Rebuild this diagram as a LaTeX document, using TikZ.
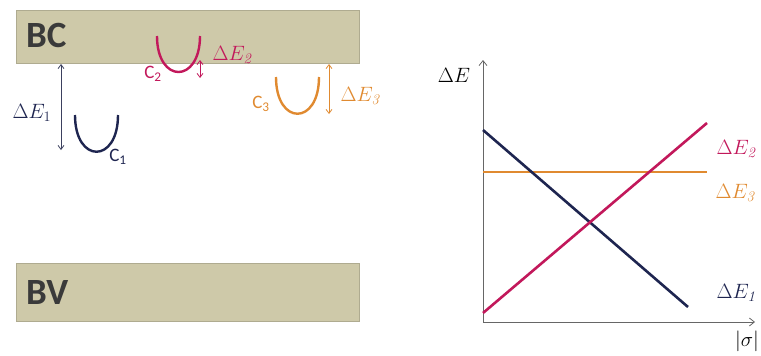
\documentclass[tikz,border=0pt]{standalone}
\usepackage{fontspec}
\newfontfamily\calib{Carlito}
\usetikzlibrary{arrows.meta}
\definecolor{navy}{HTML}{1E2550}
\definecolor{crim}{HTML}{C2185B}
\definecolor{orng}{HTML}{E08A30}
\definecolor{band}{HTML}{CEC9A9}
\definecolor{bandtxt}{HTML}{3A3A3A}
\tikzset{
  bandbox/.style={fill=band, draw=band!85!black, line width=0.6pt},
  bandlbl/.style={anchor=west, inner sep=0pt, text=bandtxt, font=\calib\bfseries\fontsize{37}{40}\selectfont},
  gap/.style={line width=0.8pt, {Straight Barb[length=4pt,width=6pt]}-{Straight Barb[length=4pt,width=6pt]}},
  well/.style={line width=2.4pt},
  elbl/.style={inner sep=0pt, font=\fontsize{21}{24}\selectfont},
  clbl/.style={inner sep=0pt, font=\calib\fontsize{19}{21}\selectfont},
  axis/.style={line width=0.8pt, draw=gray!80!black, -{Straight Barb[length=5pt,width=8pt]}},
  curve/.style={line width=2.6pt}
}
\begin{document}
\begin{tikzpicture}[x=1pt,y=-1pt]
\useasboundingbox (0,0) rectangle (761,356);
% bands
\node[bandbox, minimum width=343pt, minimum height=53pt, anchor=north west, inner sep=0pt] (bc) at (16,10) {};
\node[bandbox, minimum width=343pt, minimum height=58pt, anchor=north west, inner sep=0pt] (bv) at (16,263) {};
\node[bandlbl] (bct) at (26,35) {BC};
\node[bandlbl] (bvt) at (26,293) {BV};
% wells
\draw[well, navy] (75,115) .. controls (75,164) and (118,164) .. (118,115);
\draw[well, crim] (157,36) .. controls (157,84) and (200,84) .. (200,36);
\draw[well, orng] (276,77) .. controls (276,126) and (319,126) .. (319,77);
% gap arrows
\coordinate (a1t) at (61,64); \coordinate (a1b) at (61,150);
\coordinate (a2t) at (200,60); \coordinate (a2b) at (200,78);
\coordinate (a3t) at (329,64); \coordinate (a3b) at (329,114);
\draw[gap, navy!70!gray] (a1t) -- (a1b);
\draw[gap, crim] (a2t) -- (a2b);
\draw[gap, orng] (a3t) -- (a3b);
% labels left
\node[elbl, text=navy] (l1) at (32,113) {$\Delta E_1$};
\node[elbl, text=crim] (l2) at (232,55) {$\Delta E_{\mathit{2}}$};
\node[elbl, text=orng] (l3) at (360,96) {$\Delta E_{\mathit{3}}$};
\node[clbl, text=navy] (c1) at (118,157) {C\textsubscript{1}};
\node[clbl, text=crim] (c2) at (153,74) {C\textsubscript{2}};
\node[clbl, text=orng] (c3) at (261,104) {C\textsubscript{3}};
% graph
\coordinate (o) at (483,322);
\coordinate (ytop) at (483,60);
\coordinate (xend) at (755,322);
\draw[axis] (o) -- (ytop);
\draw[axis] (o) -- (xend);
\node[elbl] (ylab) at (454,75) {$\Delta E$};
\node[elbl] (xlab) at (747,341) {$|\sigma|$};
\coordinate (n1) at (483,130); \coordinate (n2) at (688,307);
\coordinate (r1) at (483,313); \coordinate (r2) at (707,123);
\coordinate (o1) at (483,172); \coordinate (o2) at (707,172);
\draw[curve, orng] (o1) -- (o2);
\draw[curve, navy] (n1) -- (n2);
\draw[curve, crim] (r1) -- (r2);
\node[elbl, text=crim] (g2) at (736,149) {$\Delta E_{\mathit{2}}$};
\node[elbl, text=orng] (g3) at (735,193) {$\Delta E_{\mathit{3}}$};
\node[elbl, text=navy] (g1) at (736,293) {$\Delta E_{\mathit{1}}$};
\end{tikzpicture}
\end{document}
